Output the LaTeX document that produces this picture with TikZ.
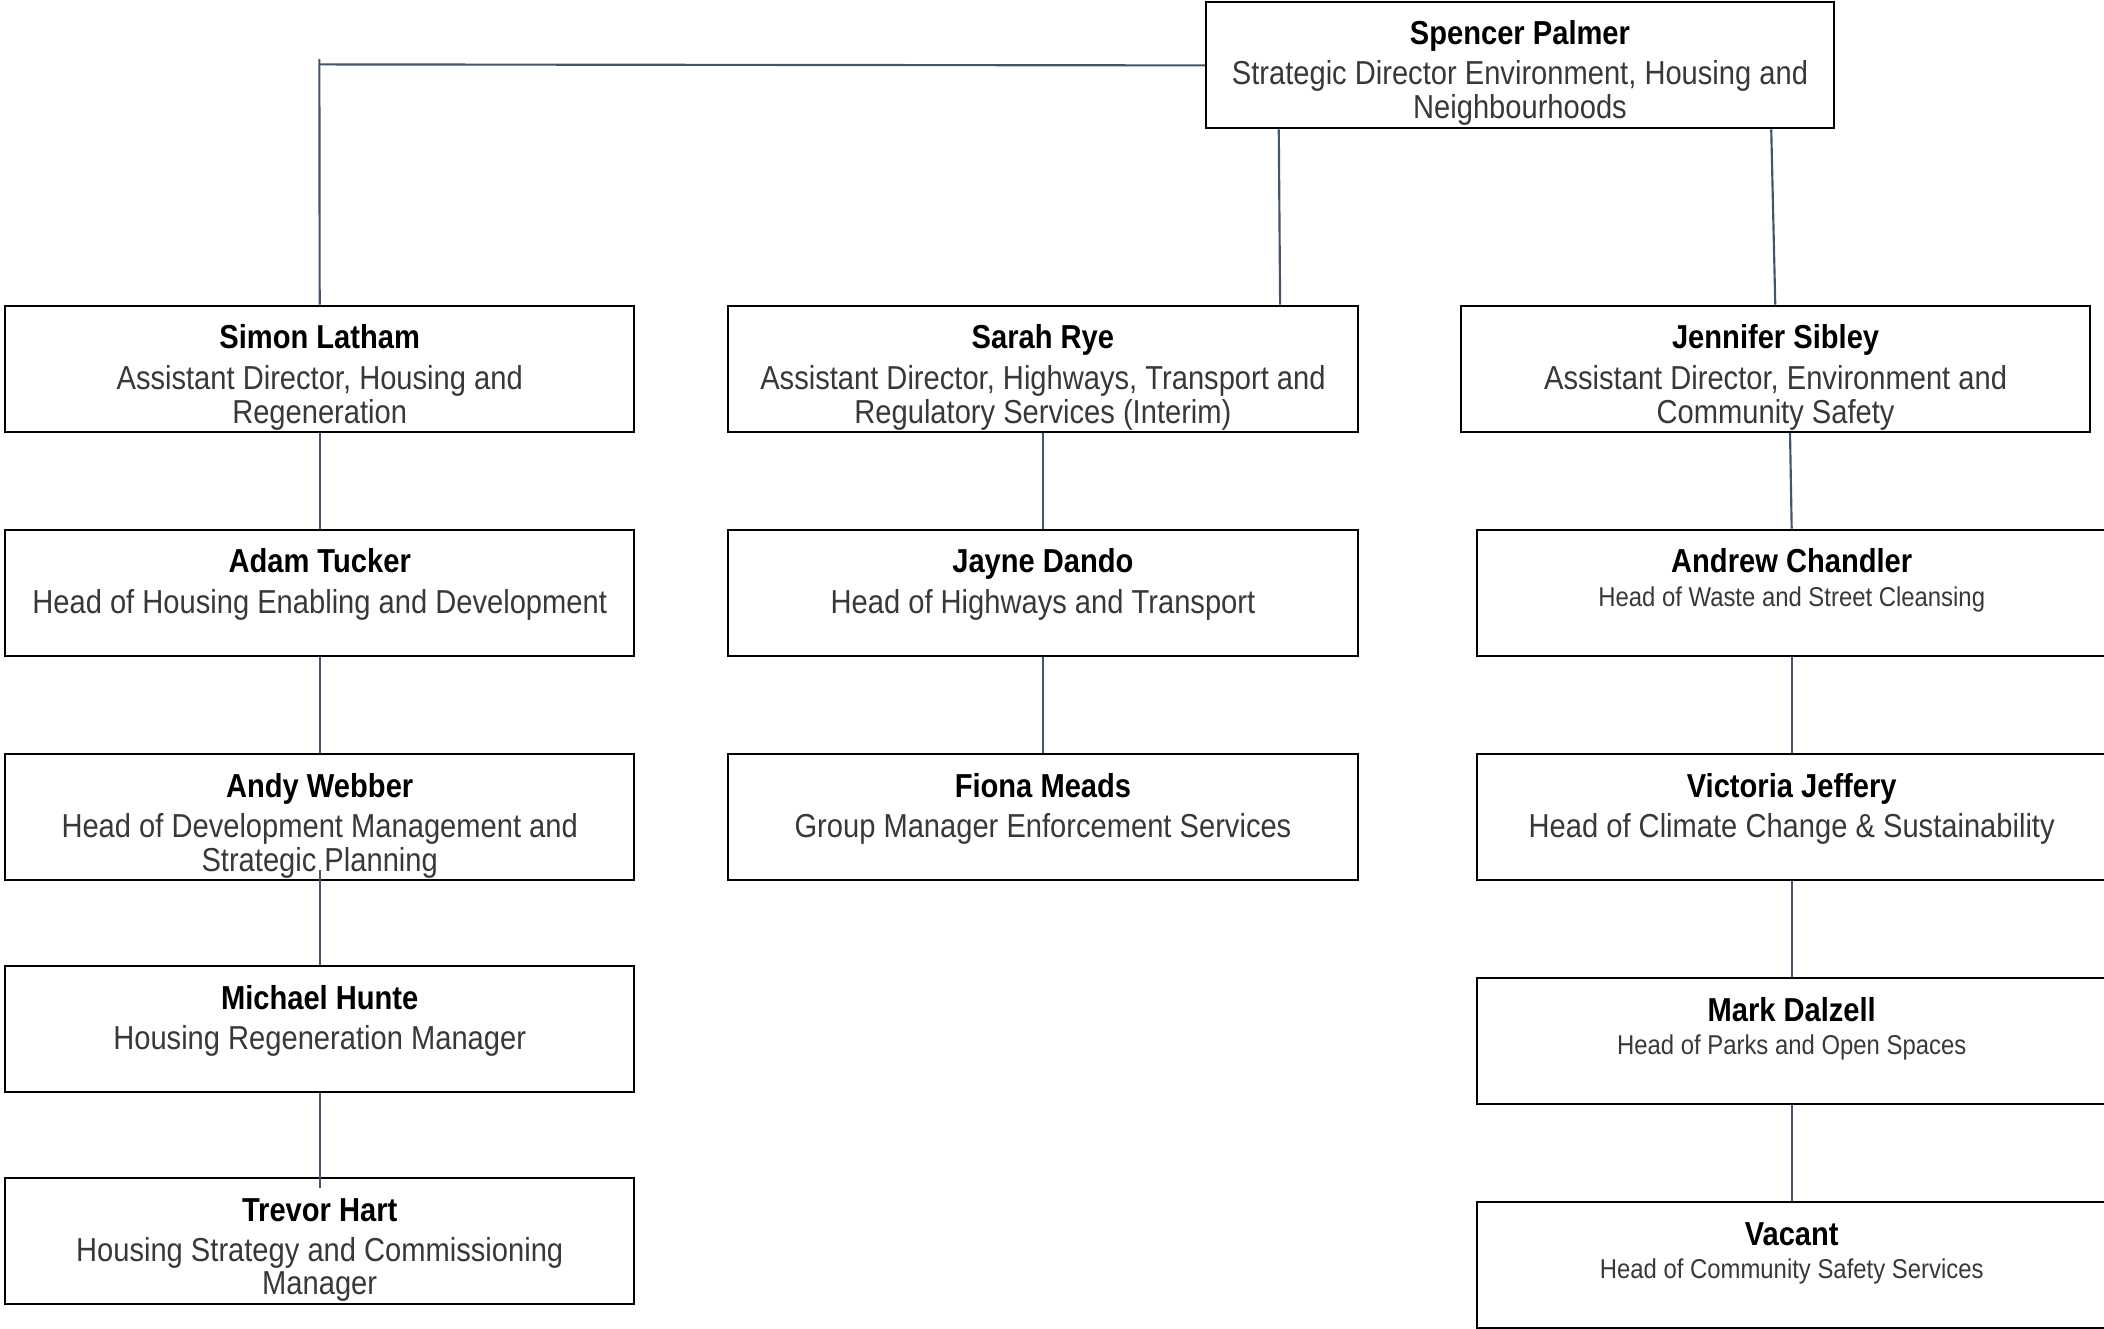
\documentclass[tikz,border=0pt]{standalone}
\usepackage{fontspec}
\setmainfont{Liberation Sans}
\usepackage{graphicx}
\usetikzlibrary{calc}
\definecolor{conncol}{HTML}{44546A}
\definecolor{titlecol}{HTML}{383838}
\newcommand\vsn[1]{\scalebox{1}[1.14]{#1}}
\newcommand\vst[1]{\scalebox{1}[1.14]{\begin{tabular}[t]{@{}c@{}}#1\end{tabular}}}
\begin{document}
\begin{tikzpicture}[x=1pt,y=-1pt,
  orgbox/.style={draw=black,line width=1.5pt,inner sep=0pt,anchor=north west,
     minimum width=469pt,minimum height=94pt},
  pname/.style={anchor=base,inner sep=0pt,font=\fontsize{21.7}{25}\selectfont\bfseries},
  ptitle/.style={anchor=base,inner sep=0pt,text=titlecol,font=\fontsize{21.7}{21.9}\selectfont},
  psmall/.style={anchor=base,inner sep=0pt,text=titlecol,font=\fontsize{17.8}{17.8}\selectfont},
  conn/.style={draw=conncol,line width=1.6pt}]
\useasboundingbox (0,0) rectangle (1568,990);
% boxes
\node[orgbox,minimum width=468pt] (top) at (898,1) {};
\node[orgbox] (simon) at (3,227) {};
\node[orgbox] (sarah) at (542,227) {};
\node[orgbox] (jen) at (1088,227) {};
\node[orgbox] (adam) at (3,394) {};
\node[orgbox] (jayne) at (542,394) {};
\node[orgbox] (andrew) at (1100,394) {};
\node[orgbox] (andy) at (3,561) {};
\node[orgbox] (fiona) at (542,561) {};
\node[orgbox] (victoria) at (1100,561) {};
\node[orgbox] (michael) at (3,719) {};
\node[orgbox] (mark) at (1100,728) {};
\node[orgbox] (trevor) at (3,877) {};
\node[orgbox] (vacant) at (1100,895) {};
% texts
\node[pname] (topn) at ($(top.north)+(0,32)$) {\vsn{Spencer Palmer}};
\node[ptitle] (topt) at ($(top.north)+(0,62)$) {\vst{Strategic Director Environment, Housing and\\Neighbourhoods}};
\node[pname] (simonn) at ($(simon.north)+(0,33)$) {\vsn{Simon Latham}};
\node[ptitle] (simont) at ($(simon.north)+(0,63)$) {\vst{Assistant Director, Housing and\\Regeneration}};
\node[pname] (sarahn) at ($(sarah.north)+(0,33)$) {\vsn{Sarah Rye}};
\node[ptitle] (saraht) at ($(sarah.north)+(0,63)$) {\vst{Assistant Director, Highways, Transport and\\Regulatory Services (Interim)}};
\node[pname] (jenn) at ($(jen.north)+(0,33)$) {\vsn{Jennifer Sibley}};
\node[ptitle] (jent) at ($(jen.north)+(0,63)$) {\vst{Assistant Director, Environment and\\Community Safety}};
\node[pname] (adamn) at ($(adam.north)+(0,33)$) {\vsn{Adam Tucker}};
\node[ptitle] (adamt) at ($(adam.north)+(0,63)$) {\vst{Head of Housing Enabling and Development}};
\node[pname] (jaynen) at ($(jayne.north)+(0,33)$) {\vsn{Jayne Dando}};
\node[ptitle] (jaynet) at ($(jayne.north)+(0,63)$) {\vst{Head of Highways and Transport}};
\node[pname] (andrewn) at ($(andrew.north)+(0,33)$) {\vsn{Andrew Chandler}};
\node[psmall] (andrewt) at ($(andrew.north)+(0,58)$) {\vsn{Head of Waste and Street Cleansing}};
\node[pname] (andyn) at ($(andy.north)+(0,33)$) {\vsn{Andy Webber}};
\node[ptitle] (andyt) at ($(andy.north)+(0,63)$) {\vst{Head of Development Management and\\Strategic Planning}};
\node[pname] (fionan) at ($(fiona.north)+(0,33)$) {\vsn{Fiona Meads}};
\node[ptitle] (fionat) at ($(fiona.north)+(0,63)$) {\vst{Group Manager Enforcement Services}};
\node[pname] (victorian) at ($(victoria.north)+(0,33)$) {\vsn{Victoria Jeffery}};
\node[ptitle] (victoriat) at ($(victoria.north)+(0,63)$) {\vst{Head of Climate Change \& Sustainability}};
\node[pname] (michaeln) at ($(michael.north)+(0,33)$) {\vsn{Michael Hunte}};
\node[ptitle] (michaelt) at ($(michael.north)+(0,63)$) {\vst{Housing Regeneration Manager}};
\node[pname] (markn) at ($(mark.north)+(0,33)$) {\vsn{Mark Dalzell}};
\node[psmall] (markt) at ($(mark.north)+(0,58)$) {\vsn{Head of Parks and Open Spaces}};
\node[pname] (trevorn) at ($(trevor.north)+(0,33)$) {\vsn{Trevor Hart}};
\node[ptitle] (trevort) at ($(trevor.north)+(0,63)$) {\vst{Housing Strategy and Commissioning\\Manager}};
\node[pname] (vacantn) at ($(vacant.north)+(0,33)$) {\vsn{Vacant}};
\node[psmall] (vacantt) at ($(vacant.north)+(0,58)$) {\vsn{Head of Community Safety Services}};
% connectors
\coordinate (elbow) at (238,48);
\coordinate (ltop) at (238,44);
\draw[conn] (top.west) -- (elbow);
\draw[conn] (ltop) -- (simon.north);
\draw[conn] ($(top.south west)+(55,0)$) -- ($(sarah.north west)+(412,0)$);
\draw[conn] ($(top.south west)+(422,0)$) -- ($(jen.north west)+(235,0)$);
\draw[conn] (simon.south) -- (adam.north);
\draw[conn] (adam.south) -- (andy.north);
\draw[conn] ($(andy.south)+(0,-8)$) -- (michael.north);
\draw[conn] (michael.south) -- ($(trevor.north)+(0,8)$);
\draw[conn] (sarah.south) -- (jayne.north);
\draw[conn] (jayne.south) -- (fiona.north);
\draw[conn] ($(jen.south west)+(246,0)$) -- (andrew.north);
\draw[conn] (andrew.south) -- (victoria.north);
\draw[conn] (victoria.south) -- (mark.north);
\draw[conn] (mark.south) -- (vacant.north);
\end{tikzpicture}
\end{document}
